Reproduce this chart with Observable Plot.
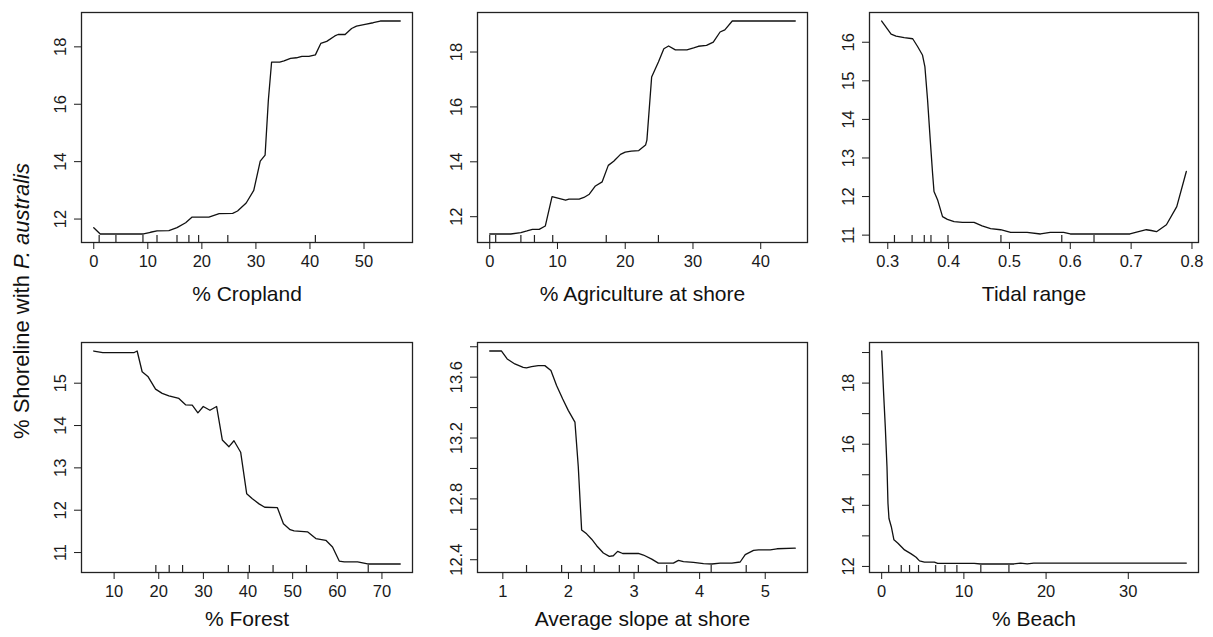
<!DOCTYPE html>
<html><head><meta charset="utf-8">
<script src="https://cdn.jsdelivr.net/npm/d3@7"></script>
<script src="https://cdn.jsdelivr.net/npm/@observablehq/plot@0.6"></script>
<style>
body{margin:0;background:#fff;width:1213px;height:637px;overflow:hidden;position:relative;font-family:"Liberation Sans",Arial,sans-serif;}
.panel{position:absolute;}
#ylab{position:absolute;left:22px;top:301px;transform:translate(-50%,-50%) rotate(-90deg);font-size:22px;white-space:nowrap;color:#111;}
</style></head><body>
<div id="ylab">% Shoreline with <i>P. australis</i></div>
<script>
// ---- % Cropland ----
const cropX = [0,1.2,9.2,10.5,11.7,13.9,15.4,17,18.2,21.3,23.2,25.7,26.6,28.2,29.6,30.8,31.7,32.3,32.9,34.4,35.2,36.4,37.5,38.5,39.8,41,42,43.1,44.6,45.2,46.5,47.7,48.6,50.2,51.7,53,56.7];
const cropY = [11.70,11.48,11.48,11.54,11.59,11.6,11.7,11.87,12.07,12.07,12.19,12.2,12.28,12.56,13.0,14.02,14.23,16.14,17.47,17.47,17.51,17.6,17.62,17.67,17.67,17.72,18.12,18.19,18.38,18.43,18.43,18.64,18.72,18.78,18.84,18.9,18.9];
const cropRug = [1.0,4.1,9.1,11.7,15.4,17.6,19.4,24.8,41.0];
const cropXTicks = [0,10,20,30,40,50];
const cropYTicks = [12,14,16,18];

// ---- % Agriculture at shore ----
const agriX = [0,3.1,4.6,5.5,6.3,7.3,8.2,9.2,10.2,11.2,11.7,13.2,13.9,14.7,15.6,16.6,17.5,18.3,19.3,20.0,20.9,22.0,23.0,23.2,23.9,24.9,25.7,26.4,27.4,29.1,30.1,30.8,32.0,33.0,34.0,34.7,35.8,45.1];
const agriY = [11.37,11.37,11.42,11.48,11.54,11.54,11.66,12.73,12.67,12.6,12.64,12.64,12.7,12.82,13.12,13.27,13.87,14.02,14.27,14.35,14.39,14.41,14.61,14.79,17.09,17.64,18.12,18.22,18.08,18.08,18.15,18.21,18.24,18.36,18.73,18.81,19.13,19.13];
const agriRug = [0,0.88,4.6,6.6,9.3,17.2,24.9];
const agriXTicks = [0,10,20,30,40];
const agriYTicks = [12,14,16,18];

// ---- Tidal range ----
const tideX = [0.290,0.3055,0.3136,0.327,0.341,0.349,0.357,0.361,0.3654,0.3698,0.3736,0.376,0.3818,0.39,0.398,0.409,0.4227,0.4418,0.455,0.469,0.4854,0.502,0.529,0.551,0.567,0.589,0.600,0.698,0.709,0.725,0.733,0.7417,0.758,0.775,0.7907];
const tideY = [16.55,16.21,16.16,16.12,16.09,15.89,15.67,15.37,14.51,13.47,12.61,12.13,11.92,11.48,11.41,11.35,11.33,11.33,11.24,11.17,11.14,11.07,11.07,11.03,11.07,11.07,11.03,11.03,11.08,11.14,11.12,11.09,11.27,11.74,12.65];
const tideRug = [0.311,0.340,0.360,0.371,0.399,0.486,0.586,0.639];
const tideXTicks = [0.3,0.4,0.5,0.6,0.7,0.8];
const tideYTicks = [11,12,13,14,15,16];

// ---- % Forest ----
const forX = [5.44,7.46,14.41,15.16,16.28,17.56,19.28,20.77,22.27,24.51,26.01,27.5,28.77,29.97,31.47,32.96,34.24,35.73,36.85,38.35,39.7,40.97,42.47,43.74,46.58,47.93,49.43,50.32,53.32,55.19,57.43,58.93,60.43,61.55,64.55,66.8,74.1];
const forY = [15.76,15.72,15.72,15.76,15.27,15.16,14.86,14.76,14.70,14.64,14.49,14.48,14.30,14.45,14.36,14.45,13.66,13.50,13.64,13.37,12.39,12.27,12.15,12.07,12.06,11.68,11.54,11.51,11.49,11.33,11.29,11.13,10.80,10.78,10.78,10.73,10.73];
const forRug = [19.35,22.34,25.34,35.59,40.3,45.61,53.09,66.93];
const forXTicks = [10,20,30,40,50,60,70];
const forYTicks = [11,12,13,14,15];

// ---- Average slope at shore ----
const slopeX = [0.80,0.98,1.066,1.183,1.31,1.36,1.438,1.54,1.64,1.733,1.819,1.911,1.997,2.099,2.15,2.201,2.277,2.354,2.43,2.532,2.623,2.684,2.75,2.827,3.066,3.143,3.27,3.37,3.60,3.677,3.753,3.906,4.059,4.186,4.313,4.491,4.618,4.695,4.822,4.898,5.076,5.178,5.458];
const slopeY = [13.772,13.772,13.72,13.687,13.665,13.661,13.67,13.676,13.676,13.644,13.545,13.458,13.382,13.305,13.011,12.596,12.570,12.535,12.492,12.444,12.422,12.426,12.455,12.441,12.441,12.431,12.404,12.378,12.378,12.396,12.387,12.383,12.374,12.372,12.378,12.378,12.385,12.433,12.461,12.465,12.465,12.472,12.476];
const slopeRug = [1.361,1.896,2.196,2.394,2.776,3.066,3.498,4.176,4.71];
const slopeXTicks = [1,2,3,4,5];
const slopeYTicks = [12.4,12.6,12.8,13.0,13.2,13.4,13.6,13.8];
const slopeYLabels = [12.4,12.8,13.2,13.6];

// ---- % Beach ----
const beachX = [0,0.24,0.44,0.645,0.766,0.887,1.17,1.49,1.98,2.78,3.59,4.19,4.6,5.2,6.41,6.81,11.25,12.06,16.09,16.9,17.7,18.5,37.06];
const beachY = [19.05,17.64,16.56,15.26,14.06,13.57,13.30,12.87,12.76,12.54,12.41,12.30,12.18,12.14,12.14,12.10,12.10,12.08,12.08,12.11,12.08,12.11,12.11];
const beachRug = [0.85,2.38,3.39,4.48,6.57,7.70,9.15,12.06,15.48];
const beachXTicks = [0,10,20,30];
const beachYTicks = [12,13,14,15,16,17,18,19];
const beachYLabels = [12,14,16,18];

const FONT = '"Liberation Sans", Arial, sans-serif';
const mL = 50, mR = 6, mT = 6, mB = 66;

function panel(o) {
  const pad = ([a, b]) => [a - (b - a) * 0.04, b + (b - a) * 0.04];
  const xd = pad(d3.extent(o.x)), yd = pad(d3.extent(o.y));
  const pts = o.x.map((v, i) => ({x: v, y: o.y[i]}));
  const labels = o.yLabels || o.yTicks;
  const p = Plot.plot({
    width: mL + o.fw + mR, height: mT + o.fh + mB,
    marginLeft: mL, marginRight: mR, marginTop: mT, marginBottom: mB,
    style: {fontFamily: FONT, fontSize: "16.5px", color: "#1a1a1a", background: "transparent", overflow: "visible"},
    x: {domain: xd}, y: {domain: yd},
    marks: [
      Plot.frame({stroke: "#222", strokeWidth: 1.3}),
      Plot.axisX({ticks: o.xTicks, tickSize: 7, tickPadding: 6, label: null, fontSize: 16.5, tickFormat: d => String(d)}),
      Plot.axisY({ticks: o.yTicks, tickSize: 7, tickPadding: 9, tickRotate: -90, label: null, fontSize: 16.5,
        tickFormat: d => labels.includes(d) ? String(d) : ""}),
      Plot.tickX(o.rug, {x: d => d, insetTop: o.fh - 7, stroke: "#222", strokeWidth: 1.2}),
      Plot.line(pts, {x: "x", y: "y", stroke: "#111", strokeWidth: 1.3}),
      Plot.text([o.label], {text: d => d, frameAnchor: "bottom", dy: o.labOff, fontSize: 21, fill: "#111"})
    ]
  });
  const div = document.createElement("div");
  div.className = "panel";
  div.style.left = (o.left - mL) + "px";
  div.style.top = (o.top - mT) + "px";
  div.appendChild(p);
  document.body.appendChild(div);
}

panel({x: cropX, y: cropY, rug: cropRug, xTicks: cropXTicks, yTicks: cropYTicks, label: "% Cropland", left: 81, top: 12, fw: 331, fh: 230, labOff: 58});
panel({x: agriX, y: agriY, rug: agriRug, xTicks: agriXTicks, yTicks: agriYTicks, label: "% Agriculture at shore", left: 477, top: 12, fw: 330, fh: 230, labOff: 58});
panel({x: tideX, y: tideY, rug: tideRug, xTicks: tideXTicks, yTicks: tideYTicks, label: "Tidal range", left: 869, top: 12, fw: 329, fh: 230, labOff: 58});
panel({x: forX, y: forY, rug: forRug, xTicks: forXTicks, yTicks: forYTicks, label: "% Forest", left: 81, top: 342, fw: 331, fh: 230, labOff: 53});
panel({x: slopeX, y: slopeY, rug: slopeRug, xTicks: slopeXTicks, yTicks: slopeYTicks, yLabels: slopeYLabels, label: "Average slope at shore", left: 477, top: 342, fw: 330, fh: 230, labOff: 53});
panel({x: beachX, y: beachY, rug: beachRug, xTicks: beachXTicks, yTicks: beachYTicks, yLabels: beachYLabels, label: "% Beach", left: 869, top: 342, fw: 329, fh: 230, labOff: 53});
</script>
</body></html>
